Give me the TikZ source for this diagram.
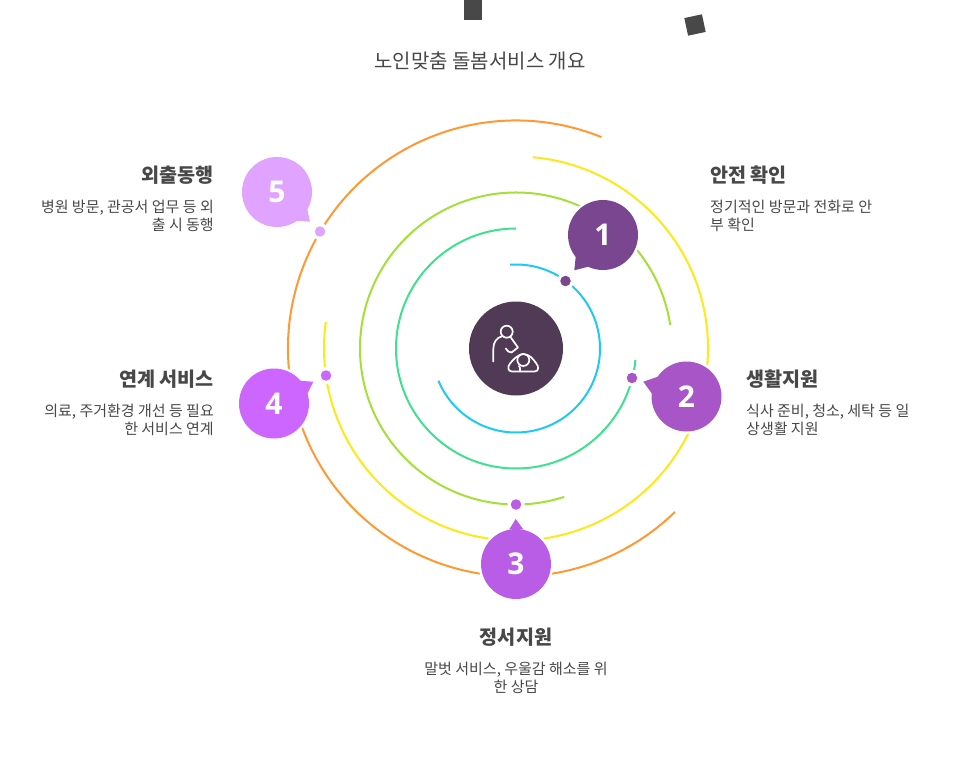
\documentclass[tikz,border=0pt]{standalone}
\usepackage{fontspec}
\setmainfont{Noto Sans CJK KR}
\newfontfamily\numfont{Open Sans}
\definecolor{txt}{HTML}{484848}
\definecolor{cA}{HTML}{7A468F}
\definecolor{cB}{HTML}{A855C7}
\definecolor{cC}{HTML}{B95CE6}
\definecolor{cD}{HTML}{CC66FF}
\definecolor{cE}{HTML}{E0A3FF}
\definecolor{hub}{HTML}{503A56}
\definecolor{rA}{HTML}{1FC8F5}
\definecolor{rB}{HTML}{3FE08F}
\definecolor{rC}{HTML}{A5E03A}
\definecolor{rD}{HTML}{FFE81A}
\definecolor{rE}{HTML}{FF9933}
\newcommand{\ringarc}[4]{\draw[ringline,#1] (c) ++(#3:#2) arc[start angle=#3,end angle=#4,radius=#2];}
\newcommand{\callout}[7]{% name, colour, centre, tail pts, digit
  \draw[white,fill=white,line width=4pt,line join=round] #4 -- #5 -- #6 -- cycle;
  \fill[white] #3 circle[radius=37.5];
  \fill[#2] #4 -- #5 -- #6 -- cycle;
  \node[bubble=#2] (#1) at #3 {#7};
}
\tikzset{
  x=1pt,y=-1pt,
  ringline/.style={line width=2pt},
  halo/.style={circle,fill=white,minimum size=17pt,inner sep=0pt},
  dotmark/.style={circle,fill=#1,minimum size=10.5pt,inner sep=0pt},
  bubble/.style={circle,fill=#1,minimum size=70pt,inner sep=0pt,text=white,font=\numfont\bfseries\fontsize{30}{30}\selectfont},
  head/.style={text=txt,font=\bfseries\fontsize{19.6}{24}\selectfont,inner sep=0pt},
  body/.style={text=txt,font=\fontsize{15}{18}\selectfont,inner sep=0pt},
  iconline/.style={white,line width=1.7pt,line cap=round,line join=round},
}
\begin{document}
\begin{tikzpicture}
\useasboundingbox (0,0) rectangle (960,757);
\fill[white] (0,0) rectangle (960,757);
\coordinate (c) at (516,348.5);
% decorative squares
\fill[txt] (464,0) rectangle (482,20);
\fill[txt,rotate around={12:(695,25)}] (686,16) rectangle (704,34);
% title
\node[text=txt,font=\fontsize{20}{24}\selectfont,inner sep=0pt] (title) at (480,61) {노인맞춤 돌봄서비스 개요};
% rings
\ringarc{rA}{84}{-94}{157.4}
\ringarc{rB}{120}{-90}{-354.5}
\ringarc{rC}{156}{-8.7}{-288}
\ringarc{rD}{192}{-85}{188}
\ringarc{rE}{228}{-68}{-314.2}
% gaps round the dots
\node[halo] at (565.5,281) {};
\node[halo] at (632,378) {};
\node[halo] at (516,504.5) {};
\node[halo] at (326,375.5) {};
\node[halo] at (320,231.5) {};
% call-outs
\callout{one}{cA}{(603,235)}{(575.7,256.7)}{(574.3,270.3)}{(588.3,266.7)}{1}
\callout{two}{cB}{(686.5,396.5)}{(658,376.7)}{(643.3,381.7)}{(651.7,393.3)}{2}
\callout{three}{cC}{(516,564)}{(509.3,529.3)}{(515.7,519)}{(523.3,529.3)}{3}
\callout{four}{cD}{(274,403.5)}{(298.3,380.7)}{(313.3,381.7)}{(307.3,394)}{4}
\callout{five}{cE}{(277,192)}{(296.7,220.7)}{(310,221.7)}{(307.3,209.3)}{5}
% dots
\node[dotmark=cA] (d1) at (565.5,281) {};
\node[dotmark=cB] (d2) at (632,378) {};
\node[dotmark=cC] (d3) at (516,504.5) {};
\node[dotmark=cD] (d4) at (326,375.5) {};
\node[dotmark=cE] (d5) at (320,231.5) {};
% hub
\node[circle,fill=hub,minimum size=94pt,inner sep=0pt] (hubc) at (c) {};
\draw[iconline] (506.7,331.7) circle[radius=6];
\draw[iconline] (493.3,361.5) -- (493.3,349) .. controls (493.3,342) and (497,337.5) .. (501.5,336.5);
\draw[iconline] (510.5,337) -- (518,347.5) -- (511.5,352.5) .. controls (509,352.5) and (507,351) .. (505.8,348.5);
\draw[iconline] (523.3,360) circle[radius=6];
\draw[iconline] (512,371.5) .. controls (508,371.5) and (507,367) .. (510,363.5) .. controls (513,360) and (516,355.5) .. (523.3,354) .. controls (530,354.5) and (533,359) .. (536,363) .. controls (539.5,367) and (538.5,371.5) .. (534.5,371.5) -- cycle;
\draw[iconline] (519,366) .. controls (520,367) and (520.5,369) .. (520,371.5);
% labels
\node[head,anchor=west] (h1) at (710,175) {안전 확인};
\node[body,anchor=north west,align=left] (b1) at (710,199.5) {정기적인 방문과 전화로 안\\부 확인};
\node[head,anchor=west] (h2) at (746,379) {생활지원};
\node[body,anchor=north west,align=left] (b2) at (746,403.5) {식사 준비, 청소, 세탁 등 일\\상생활 지원};
\node[head] (h3) at (516,637) {정서지원};
\node[body,anchor=north,align=center] (b3) at (516,661.5) {말벗 서비스, 우울감 해소를 위\\한 상담};
\node[head,anchor=east] (h4) at (214,379) {연계 서비스};
\node[body,anchor=north east,align=right] (b4) at (214,403.5) {의료, 주거환경 개선 등 필요\\한 서비스 연계};
\node[head,anchor=east] (h5) at (214,175) {외출동행};
\node[body,anchor=north east,align=right] (b5) at (214,199.5) {병원 방문, 관공서 업무 등 외\\출 시 동행};
\end{tikzpicture}
\end{document}
